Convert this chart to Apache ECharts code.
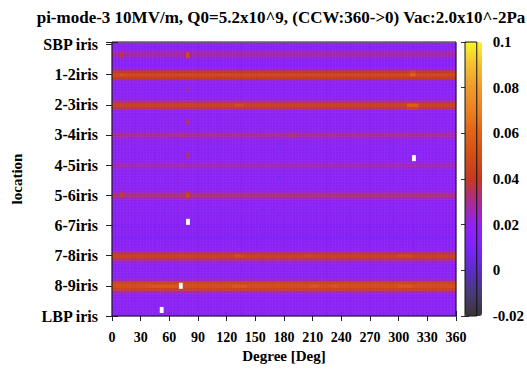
<!DOCTYPE html>
<html><head><meta charset="utf-8">
<script src="https://cdn.jsdelivr.net/npm/echarts@6/dist/echarts.min.js"></script>
<style>html,body{margin:0;padding:0;background:#fff}#c{width:527px;height:372px}</style>
</head><body><div id="c"></div><script>
// ---- data ----
const titleText = 'pi-mode-3 10MV/m, Q0=5.2x10^9, (CCW:360->0) Vac:2.0x10^-2Pa';
// top to bottom
const locations = ['SBP iris','1-2iris','2-3iris','3-4iris','4-5iris','5-6iris','6-7iris','7-8iris','8-9iris','LBP iris'];
const xStep = 3;      // degrees per column
const yStep = 0.1;    // location units per row (LBP = 0 ... SBP = 9)
// base value of each row, from LBP (0.0) upward to SBP (9.0)
const rowValues = [
  0.017,0.017,0.017,0.017,0.017,0.017,0.017,0.019,0.028,0.044,
  0.050,0.046,0.026,0.017,0.017,0.017,0.017,0.017,0.022,0.036,
  0.043,0.034,0.020,0.017,0.017,0.016,0.012,0.016,0.017,0.017,
  0.014,0.017,0.017,0.017,0.016,0.017,0.017,0.017,0.018,0.024,
  0.032,0.024,0.018,0.017,0.017,0.017,0.017,0.017,0.017,0.021,
  0.027,0.021,0.017,0.017,0.017,0.017,0.017,0.017,0.017,0.023,
  0.029,0.023,0.017,0.017,0.017,0.017,0.017,0.017,0.020,0.036,
  0.043,0.034,0.019,0.017,0.017,0.017,0.017,0.017,0.022,0.040,
  0.047,0.040,0.022,0.017,0.017,0.017,0.024,0.029,0.022,0.017,
  0.017
];
// local spots: [fromDeg, toDeg, row position, value]
const hotSpans = [
  [10,11,8.6,0.035],[10,11,8.7,0.038],[79,80,8.6,0.05],[79,80,8.7,0.05],
  [10,11,8.0,0.052],[313,318,8.0,0.06],[313,318,8.1,0.048],
  [79,80,7.5,0.03],[79,80,6.4,0.035],[79,80,6.5,0.03],[79,80,5.3,0.035],[79,80,5.4,0.03],
  [79,80,4.0,0.048],[79,80,4.1,0.04],[79,80,3.9,0.035],[79,80,2.0,0.045],[79,80,1.0,0.05],
  [130,137,7.0,0.05],[310,320,7.0,0.058],[310,320,6.9,0.045],
  [10,11,7.0,0.045],[10,11,6.0,0.032],[10,11,5.0,0.032],[10,11,4.0,0.042],[10,11,4.1,0.035],[10,11,0.9,0.046],
  [73,74,6.0,0.035],[73,74,5.0,0.033],[73,74,4.0,0.035],[73,74,3.9,0.028],[73,74,2.0,0.045],
  [185,192,6.0,0.035],
  [130,137,2.0,0.05],[300,315,2.0,0.048],[200,210,2.0,0.046],
  [40,70,1.0,0.054],[125,140,1.0,0.055],[208,215,1.0,0.054],[230,236,1.0,0.054],[300,315,1.0,0.054],
  [174,178,5.7,0.008],[174,178,4.6,0.008],[174,178,3.4,0.008]
];
// cells drawn white (out of range): [deg, row position]
const whiteCells = [[316,5.23],[79.5,3.12],[72,1.0],[52,0.2]];
const cbMin = -0.02, cbMax = 0.1, cbStep = 0.02;

// ---- build the grid table from the arrays ----
const cells = [];
const nCols = Math.round(360 / xStep);
for (let i = 0; i < nCols; i++) {
  const x = i * xStep + xStep / 2;
  for (let k = 0; k < rowValues.length; k++) {
    const v = +(k * yStep).toFixed(1);
    let val = rowValues[k];
    for (const s of hotSpans) {
      if (x >= s[0] && x <= s[1] && Math.abs(s[2] - v) < 1e-6) val = s[3];
    }
    cells.push([x, v, val]);
  }
}

const chart = echarts.init(document.getElementById('c'), null, {renderer: 'svg'});
const font = {fontFamily: 'Liberation Serif', fontWeight: 'bold', color: '#000'};

function renderCell(params, api) {
  const x = api.value(0), y = api.value(1);
  const p0 = api.coord([x - xStep / 2, y + yStep / 2]);
  const p1 = api.coord([x + xStep / 2, y - yStep / 2]);
  const rect = echarts.graphic.clipRectByRect(
    {x: p0[0], y: p0[1], width: p1[0] - p0[0], height: p1[1] - p0[1]}, params.coordSys);
  if (!rect) return;
  const c = api.visual('color');
  return {type: 'rect', shape: rect, style: {fill: c, stroke: c, lineWidth: 0.6}};
}
function renderWhite(params, api) {
  const x = api.value(0), y = api.value(1);
  const p0 = api.coord([x - 2, y + 0.1]);
  const p1 = api.coord([x + 2, y - 0.1]);
  return {type: 'rect', shape: {x: p0[0], y: p0[1], width: p1[0] - p0[0], height: p1[1] - p0[1]}, style: {fill: '#ffffff'}};
}

const tickStyle = {color: '#222', width: 1};
chart.setOption({
  animation: false,
  backgroundColor: '#fff',
  graphic: [{type: 'text', x: 281, y: 17, style: {text: titleText, fontFamily: 'Liberation Serif', fontWeight: 'bold', fontSize: 17, fill: '#000', textAlign: 'center', textVerticalAlign: 'middle'}}],
  grid: [
    {left: 112, top: 42, width: 344, height: 274, show: true, borderColor: '#111', borderWidth: 1, backgroundColor: 'transparent', z: 5},
    {left: 465, top: 42, width: 17, height: 274, show: true, borderColor: '#111', borderWidth: 1, backgroundColor: 'transparent', z: 10}
  ],
  xAxis: [
    {type: 'value', gridIndex: 0, min: 0, max: 360, interval: 30, position: 'bottom',
     axisLine: {show: false}, splitLine: {show: false},
     axisTick: {inside: true, length: 5, lineStyle: tickStyle},
     axisLabel: Object.assign({fontSize: 14, margin: 14}, font),
     name: 'Degree [Deg]', nameLocation: 'middle', nameGap: 30,
     nameTextStyle: Object.assign({fontSize: 15}, font)},
    {type: 'value', gridIndex: 0, min: 0, max: 360, interval: 30, position: 'top',
     axisLine: {show: false}, splitLine: {show: false},
     axisTick: {inside: true, length: 5, lineStyle: tickStyle}, axisLabel: {show: false}},
    {type: 'value', gridIndex: 1, min: 0, max: 1, show: false}
  ],
  yAxis: [
    {type: 'value', gridIndex: 0, min: 0, max: 9.08, interval: 1, position: 'left',
     axisLine: {show: false}, splitLine: {show: false},
     axisTick: {inside: true, length: 6, lineStyle: tickStyle},
     axisLabel: Object.assign({fontSize: 16, margin: 14,
       formatter: v => Number.isInteger(v) && v >= 0 && v <= 9 ? locations[9 - v] : ''}, font),
     name: 'location', nameLocation: 'middle', nameRotate: 90, nameGap: 88,
     nameTextStyle: Object.assign({fontSize: 15}, font)},
    {type: 'value', gridIndex: 0, min: 0, max: 9.08, interval: 1, position: 'right',
     axisLine: {show: false}, splitLine: {show: false},
     axisTick: {inside: true, length: 6, lineStyle: tickStyle}, axisLabel: {show: false}},
    {type: 'value', gridIndex: 1, min: cbMin, max: cbMax, interval: cbStep, position: 'right',
     axisLine: {show: false}, splitLine: {show: false},
     axisTick: {inside: true, length: 4, lineStyle: {color: '#333', width: 1}},
     axisLabel: Object.assign({fontSize: 15, margin: 16, align: 'left'}, font)},
    {type: 'value', gridIndex: 1, min: cbMin, max: cbMax, interval: cbStep, position: 'left',
     axisLine: {show: false}, splitLine: {show: false},
     axisTick: {inside: true, length: 4, lineStyle: {color: '#333', width: 1}}, axisLabel: {show: false}}
  ],
  visualMap: {
    type: 'continuous', min: cbMin, max: cbMax, dimension: 2, seriesIndex: 0,
    left: 465, top: 42, itemWidth: 17, itemHeight: 274, padding: 0,
    calculable: false, hoverLink: false, text: null, showLabel: false,
    inRange: {color: ['#3c3438','#4a3a78','#5c2cc8','#7c24fa','#9222f2','#aa2c90','#c43a22','#d24e16','#e06218','#ec8020','#f09a2c','#f4c030','#fcf428']}
  },
  series: [
    {type: 'custom', xAxisIndex: 0, yAxisIndex: 0, renderItem: renderCell, data: cells, encode: {x: 0, y: 1}, silent: true},
    {type: 'custom', xAxisIndex: 0, yAxisIndex: 0, renderItem: renderWhite, data: whiteCells, encode: {x: 0, y: 1}, silent: true, z: 3}
  ]
});
</script></body></html>
